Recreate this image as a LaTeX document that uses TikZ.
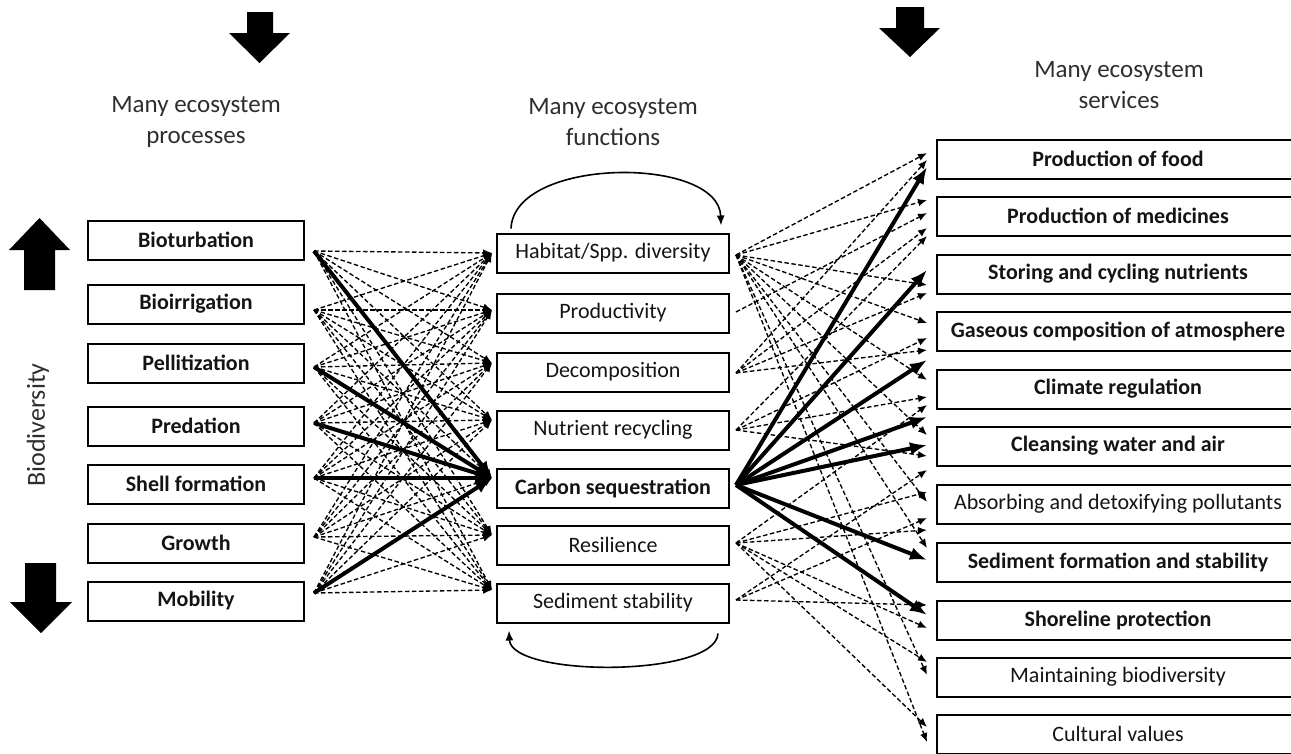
\documentclass[tikz,border=0pt]{standalone}
\usepackage{fontspec}
\setmainfont{Carlito}
\usetikzlibrary{arrows.meta,calc}
\begin{document}
\begin{tikzpicture}[x=1pt,y=-1pt,
  box/.style={draw, line width=2pt, minimum height=39pt, inner sep=0pt, text=black!92,
    font=\fontsize{22}{26}\selectfont},
  bx/.style={font=\fontsize{22}{26}\selectfont\bfseries},
  lbox/.style={box, minimum width=216pt},
  mbox/.style={box, minimum width=232pt},
  sbox/.style={box, minimum width=362pt},
  dasharrow/.style={line width=1.35pt, dash pattern=on 4.5pt off 2.5pt, -{Latex[length=9pt,width=7.5pt]}},
  thickarrow/.style={line width=4pt, -{Latex[length=17pt,width=13pt]}},
  looparrow/.style={line width=1.6pt, -{Latex[length=10pt,width=8pt]}},
  heading/.style={align=center, text=black!82, font=\fontsize{25}{31}\selectfont},
  blockarrow/.style={fill=black}
]
\useasboundingbox (0,0) rectangle (1291,753);

% block arrows
\fill[blockarrow] (247,12) -- (273,12) -- (273,33) -- (290,33) -- (259.5,63) -- (229,33) -- (247,33) -- cycle;
\fill[blockarrow] (896,7) -- (924,7) -- (924,28) -- (940,28) -- (910,57) -- (879,28) -- (896,28) -- cycle;
\fill[blockarrow] (39.5,218) -- (70,250) -- (55,250) -- (55,290) -- (24,290) -- (24,250) -- (9,250) -- cycle;
\fill[blockarrow] (25,563) -- (56,563) -- (56,602) -- (72,602) -- (41,633) -- (10,602) -- (25,602) -- cycle;

% headings
\node[heading] (h1) at (196,122) {Many ecosystem\\processes};
\node[heading] (h2) at (613,122) {Many ecosystem\\functions};
\node[heading] (h3) at (1119,85) {Many ecosystem\\services};
\node[rotate=90, text=black!82, font=\fontsize{26}{30}\selectfont] (bio) at (38,425) {Biodiversity};

% processes
\node[lbox,bx] (L1) at (196,240) {Bioturbation};
\node[lbox,bx] (L2) at (196,304) {Bioirrigation};
\node[lbox,bx] (L3) at (196,363) {Pellitization};
\node[lbox,bx] (L4) at (196,426) {Predation};
\node[lbox,bx] (L5) at (196,484) {Shell formation};
\node[lbox,bx] (L6) at (196,543) {Growth};
\node[lbox,bx] (L7) at (196,601) {Mobility};

% functions
\node[mbox] (M1) at (613,253) {Habitat/Spp. diversity};
\node[mbox] (M2) at (613,313) {Productivity};
\node[mbox] (M3) at (613,372) {Decomposition};
\node[mbox] (M4) at (613,430) {Nutrient recycling};
\node[mbox,bx] (M5) at (613,488) {Carbon sequestration};
\node[mbox] (M6) at (613,545) {Resilience};
\node[mbox] (M7) at (613,603) {Sediment stability};

% services
\node[sbox,bx] (S1) at (1118,159) {Production of food};
\node[sbox,bx] (S2) at (1118,216) {Production of medicines};
\node[sbox,bx] (S3) at (1118,274) {Storing and cycling nutrients};
\node[sbox,bx] (S4) at (1118,331) {Gaseous composition of atmosphere};
\node[sbox,bx] (S5) at (1118,389) {Climate regulation};
\node[sbox,bx] (S6) at (1118,446) {Cleansing water and air};
\node[sbox] (S7) at (1118,504) {Absorbing and detoxifying pollutants};
\node[sbox,bx] (S8) at (1118,562) {Sediment formation and stability};
\node[sbox,bx] (S9) at (1118,620) {Shoreline protection};
\node[sbox] (S10) at (1118,677) {Maintaining biodiversity};
\node[sbox] (S11) at (1118,734) {Cultural values};

% loop arrows around functions
\coordinate (ta) at ($(M1.north west)+(15,-4)$);
\coordinate (tb) at ($(M1.north east)+(-9,-7)$);
\draw[looparrow] (ta) .. controls ($(ta)+(3,-72)$) and ($(tb)+(-2,-70)$) .. (tb);
\coordinate (bs) at ($(M7.south east)+(-12,10)$);
\coordinate (be) at ($(M7.south west)+(13,7)$);
\draw[looparrow] (bs) .. controls ($(bs)+(-2,44)$) and ($(be)+(2,47)$) .. (be);

% ports
\foreach \i/\d in {1/11,2/6,3/4,4/-3,5/-6,6/-6,7/-8}
  \coordinate (lo\i) at ($(L\i.east)+(9,\d)$);
\foreach \j/\d in {1/0,2/-3,3/-9,4/-10,5/-10,6/-10,7/-13}
  \coordinate (li\j) at ($(M\j.west)+(-4,\d)$);
\foreach \i/\d in {1/2,2/-1,3/1,4/0,5/-3,6/-2,7/-3}
  \coordinate (ro\i) at ($(M\i.east)+(6,\d)$);

% processes -> functions
\foreach \i in {1,...,7}
  \foreach \j in {1,...,7}
    \draw[dasharrow] (lo\i) -- (li\j);
\foreach \i in {1,3,4,5,7}
  \draw[thickarrow] (lo\i) -- (li5);

% functions -> services (dashed)
\foreach \s/\t/\d in {
  1/1/-6, 1/2/-16, 1/3/11, 1/4/-8, 1/5/-9, 1/6/-11, 1/7/-2, 1/8/-14, 1/10/-2, 1/11/8,
  3/1/1, 3/2/12, 3/3/19, 3/4/19,
  2/2/-3,
  4/2/20, 4/4/7, 4/5/8, 4/6/10,
  6/5/16, 6/7/-12, 6/7/26, 6/9/8, 6/10/-15, 6/11/-7,
  7/6/24, 7/7/14, 7/9/-15}
  \draw[dasharrow] (ro\s) -- ($(S\t.west)+(-9,\d)$);

% carbon sequestration -> services (thick)
\foreach \t/\d in {1/8, 3/-4, 4/29, 5/28, 6/-1, 8/-2, 9/-5}
  \draw[thickarrow] (ro5) -- ($(S\t.west)+(-9,\d)$);

\end{tikzpicture}
\end{document}
